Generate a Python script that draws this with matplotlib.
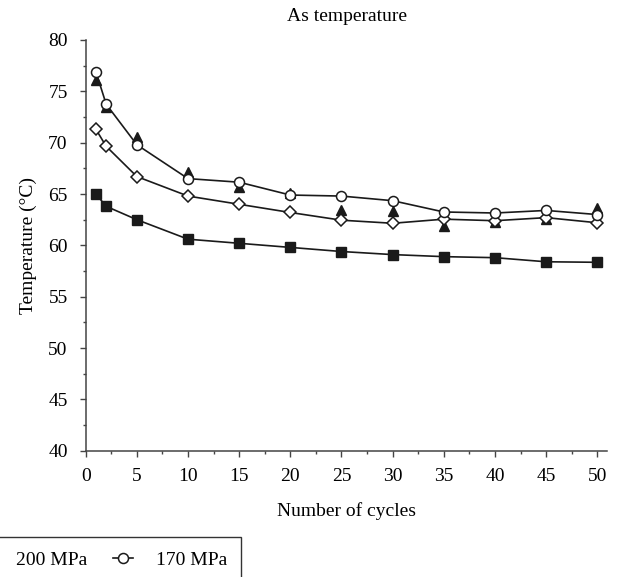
import numpy as np
import matplotlib
matplotlib.use('Agg')
import matplotlib.pyplot as plt
from matplotlib.ticker import MultipleLocator

plt.rcParams['font.family'] = ['Liberation Serif', 'DejaVu Serif']
plt.rcParams['font.size'] = 14

cycles = [1, 2, 5, 10, 15, 20, 25, 30, 35, 40, 45, 50]

# As temperature per loading level (deg C)
temp_squares = [65.0, 63.8, 62.5, 60.6, 60.2, 59.8, 59.4, 59.1, 58.9, 58.8, 58.4, 58.35]
temp_triangles = [76.1, 73.5, 70.6, 67.1, 65.7, 65.1, 63.4, 63.3, 61.9, 62.3, 62.6, 63.6]
temp_diamonds = [71.3, 69.65, 66.7, 64.8, 64.0, 63.2, 62.45, 62.15, 62.55, 62.4, 62.7, 62.2]
temp_circles = [76.9, 73.75, 69.8, 66.5, 66.15, 64.9, 64.8, 64.35, 63.25, 63.15, 63.4, 63.0]

labels = ['100 MPa', '230 MPa', '200 MPa', '170 MPa']

fig = plt.figure(figsize=(6.21, 5.77), dpi=100)
ax = fig.add_axes([85.7 / 621, 1 - 450.7 / 577, 521.8 / 621, 410.7 / 577])

k = '#1a1a1a'
h_sq, = ax.plot(cycles, temp_squares, '-s', color=k, lw=1.2, ms=7.0,
                mfc=k, mec=k, zorder=3, label=labels[0])
h_tr, = ax.plot(cycles, temp_triangles, '^', color=k, ms=7.4,
                mfc=k, mec=k, zorder=2, label=labels[1])
h_di, = ax.plot(cycles, temp_diamonds, '-D', color=k, lw=1.2, ms=6.6,
                mfc='white', mec=k, mew=1.1, zorder=3, label=labels[2])
h_ci, = ax.plot(cycles, temp_circles, '-o', color=k, lw=1.2, ms=7.2,
                mfc='white', mec=k, mew=1.1, zorder=4, label=labels[3])

ax.set_xlim(0, 51)
ax.set_ylim(40, 80)
ax.xaxis.set_major_locator(MultipleLocator(5))
ax.xaxis.set_minor_locator(MultipleLocator(2.5))
ax.yaxis.set_major_locator(MultipleLocator(5))
ax.yaxis.set_minor_locator(MultipleLocator(2.5))

for s in ['top', 'right']:
    ax.spines[s].set_visible(False)
for s in ['left', 'bottom']:
    ax.spines[s].set_color('#444444')
    ax.spines[s].set_linewidth(1.1)

ax.tick_params(which='major', direction='out', length=4.5, width=1.0,
               color='#444444', labelsize=14)
ax.tick_params(which='minor', direction='out', length=2.3, width=1.0,
               color='#444444')
ax.tick_params(axis='y', pad=8.5)
ax.tick_params(axis='x', pad=8)

ax.set_title('As temperature', fontsize=14, pad=14)
ax.set_xlabel('Number of cycles', fontsize=14, labelpad=12)
ax.set_ylabel('Temperature (°C)', fontsize=14, labelpad=8)

# single-row key in the lower left corner, partly past the figure edge
leg = fig.legend(handles=[h_sq, h_tr, h_di, h_ci], loc='upper right',
                 bbox_to_anchor=(240.7 / 621, 1 - 537.3 / 577), ncol=4,
                 frameon=True, fancybox=False, framealpha=1, edgecolor='#333333',
                 handlelength=1.05, handletextpad=1.15, columnspacing=1.35,
                 borderpad=0.7, borderaxespad=0, fontsize=14)
leg.get_frame().set_linewidth(1.0)

plt.savefig('out.png', dpi=100)
